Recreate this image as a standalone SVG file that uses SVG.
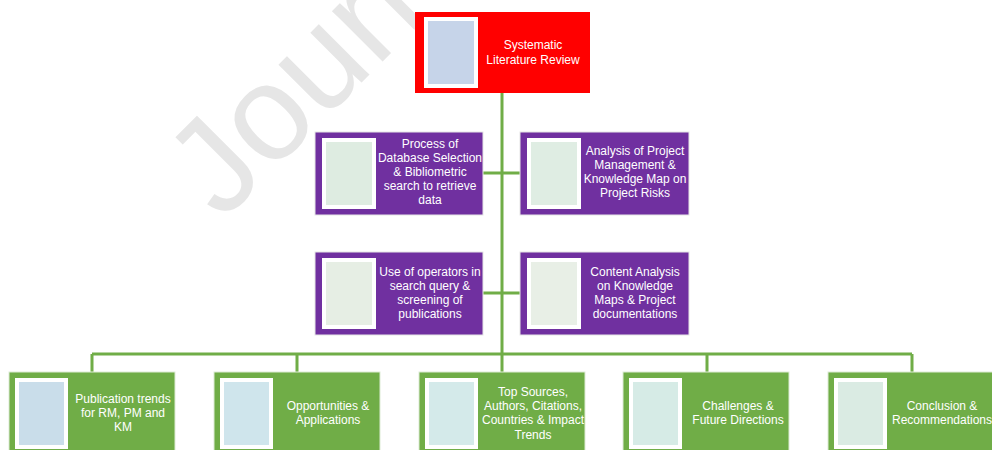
<svg xmlns="http://www.w3.org/2000/svg" width="992" height="450" viewBox="0 0 992 450">
<style>
.lbl{font-family:"Liberation Sans",Arial,sans-serif;font-size:12px;fill:#ffffff;text-anchor:middle}
.red{fill:#FF0000}
.pur{fill:#7030A0;stroke:#E6E6E6;stroke-width:1}
.grn{fill:#70AD47;stroke:#DDEBD5;stroke-width:1}
.pic{stroke:#ffffff;stroke-width:4}
.con{stroke:#70AD47;stroke-width:3;fill:none}
.wm{font-family:"Liberation Sans",Arial,sans-serif;font-size:135px;fill:#E6E6E6}
</style>
<rect width="992" height="450" fill="#ffffff"/>
<text class="wm" transform="translate(222,222) rotate(-45)">Journal Pre-proof</text>
<g id="connectors">
<path class="con" d="M502,93 V372 M483,173 H520 M483,293 H520 M92,354 H912 M92,354 V372 M297,354 V372 M707,354 V372 M912,354 V372"/>
</g>
<g id="n-slr">
<rect class="red" x="415" y="12" width="175" height="81"/>
<rect class="pic" x="426" y="19" width="50" height="67" fill="#C6D4E9"/>
<text class="lbl"><tspan x="533" y="49">Systematic</tspan><tspan x="533" y="64">Literature Review</tspan></text>
</g>
<g id="n-process">
<rect class="pur" x="315" y="132" width="168" height="83"/>
<rect class="pic" x="324" y="140" width="50" height="67" fill="#DEECE1"/>
<text class="lbl"><tspan x="430" y="148">Process of</tspan><tspan x="430" y="162">Database Selection</tspan><tspan x="430" y="176">&amp; Bibliometric</tspan><tspan x="430" y="190">search to retrieve</tspan><tspan x="430" y="204">data</tspan></text>
</g>
<g id="n-analysis">
<rect class="pur" x="520" y="132" width="169" height="83"/>
<rect class="pic" x="529" y="140" width="50" height="67" fill="#DFEDE3"/>
<text class="lbl"><tspan x="635" y="155">Analysis of Project</tspan><tspan x="635" y="169">Management &amp;</tspan><tspan x="635" y="183">Knowledge Map on</tspan><tspan x="635" y="197">Project Risks</tspan></text>
</g>
<g id="n-operators">
<rect class="pur" x="315" y="252" width="168" height="83"/>
<rect class="pic" x="324" y="260" width="50" height="67" fill="#E6EEE4"/>
<text class="lbl"><tspan x="430" y="276">Use of operators in</tspan><tspan x="430" y="290">search query &amp;</tspan><tspan x="430" y="304">screening of</tspan><tspan x="430" y="318">publications</tspan></text>
</g>
<g id="n-content">
<rect class="pur" x="520" y="252" width="169" height="83"/>
<rect class="pic" x="529" y="260" width="50" height="67" fill="#E8EFE6"/>
<text class="lbl"><tspan x="635" y="276">Content Analysis</tspan><tspan x="635" y="290">on Knowledge</tspan><tspan x="635" y="304">Maps &amp; Project</tspan><tspan x="635" y="318">documentations</tspan></text>
</g>
<g id="n-trends">
<rect class="grn" x="9" y="372" width="166" height="83"/>
<rect class="pic" x="17" y="380" width="49" height="67" fill="#C9DDEA"/>
<text class="lbl"><tspan x="123" y="403">Publication trends</tspan><tspan x="123" y="417">for RM, PM and</tspan><tspan x="123" y="431">KM</tspan></text>
</g>
<g id="n-opps">
<rect class="grn" x="214" y="372" width="166" height="83"/>
<rect class="pic" x="222" y="380" width="49" height="67" fill="#CFE5EC"/>
<text class="lbl"><tspan x="328" y="410">Opportunities &amp;</tspan><tspan x="328" y="424">Applications</tspan></text>
</g>
<g id="n-top">
<rect class="grn" x="419" y="372" width="166" height="83"/>
<rect class="pic" x="427" y="380" width="49" height="67" fill="#D4EAEA"/>
<text class="lbl"><tspan x="533" y="396">Top Sources,</tspan><tspan x="533" y="410">Authors, Citations,</tspan><tspan x="533" y="424">Countries &amp; Impact</tspan><tspan x="533" y="439">Trends</tspan></text>
</g>
<g id="n-challenges">
<rect class="grn" x="623" y="372" width="166" height="83"/>
<rect class="pic" x="631" y="380" width="49" height="67" fill="#D6EBE6"/>
<text class="lbl"><tspan x="738" y="410">Challenges &amp;</tspan><tspan x="738" y="424">Future Directions</tspan></text>
</g>
<g id="n-conclusion">
<rect class="grn" x="828" y="372" width="166" height="83"/>
<rect class="pic" x="836" y="380" width="49" height="67" fill="#DAEBE3"/>
<text class="lbl"><tspan x="942" y="410">Conclusion &amp;</tspan><tspan x="942" y="424">Recommendations</tspan></text>
</g>
</svg>
